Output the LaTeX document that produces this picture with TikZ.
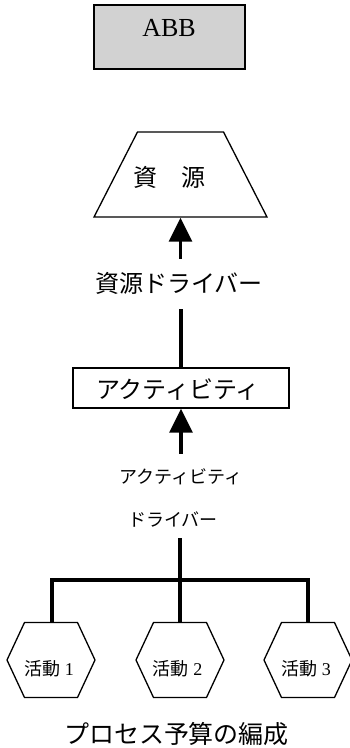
\documentclass[tikz,border=0pt]{standalone}
\usepackage{fontspec}
\setmainfont{Liberation Serif}
\newfontfamily\cjk{Noto Sans CJK JP}
\usetikzlibrary{arrows.meta,shapes.geometric}
\begin{document}
\begin{tikzpicture}[x=1pt,y=-1pt,
  thinline/.style={line width=1.3pt},
  conn/.style={line width=3.2pt},
  arr/.style={conn,-{Triangle[length=24pt,width=23pt]}},
  big/.style={font=\cjk\fontsize{24}{28}\selectfont, inner sep=0pt},
  small/.style={font=\cjk\fontsize{18}{21}\selectfont, inner sep=0pt},
  hexlabel/.style={font=\fontsize{18}{21}\selectfont, inner sep=0pt},
  caption/.style={font=\cjk\fontsize{25}{29}\selectfont, inner sep=0pt}]
\useasboundingbox (0,0) rectangle (349,748);

% ABB box
\node[draw, line width=2pt, fill=gray!35, minimum width=151pt, minimum height=64pt] (abb) at (169.5,37) {};
\node[font=\fontsize{26}{30}\selectfont, inner sep=0pt] (abbtext) at (169,28) {ABB};

% resource trapezium
\node[trapezium, draw, thinline, trapezium angle=63.2, trapezium stretches=true,
      minimum width=173pt, minimum height=85pt] (res) at (180.5,174.5) {};
\node[big] (restext) at (169.5,177) {資　源};

% resource driver
\node[big] (rdrv) at (179,283) {資源ドライバー};
\draw[arr, shorten <=13pt] (rdrv.north -| res.south) -- (res.south);

% activity box
\node[draw, thinline, minimum width=216pt, minimum height=40pt] (act) at (181,388) {};
\node[big] (acttext) at (178,390) {アクティビティ};
\draw[conn, shorten <=15pt] (rdrv.south -| act.north) -- (act.north);

% activity driver
\node[small] (ad1) at (181,477) {アクティビティ};
\node[small] (ad2) at (173,520) {ドライバー};
\draw[arr, shorten <=15pt] (ad1.north -| act.south) -- (act.south);

% hexagons
\coordinate (h1c) at (51,660);
\coordinate (h2c) at (180,660);
\coordinate (h3c) at (308,660);
\foreach \c in {h1c,h2c,h3c}{
  \draw[thinline] (\c) ++(-44,0) -- ++(17.5,-37.5) -- ++(53,0) -- ++(17.5,37.5)
    -- ++(-17.5,37.5) -- ++(-53,0) -- cycle;
}
\coordinate (h1top) at (52,622.5);
\coordinate (h2top) at (180,622.5);
\coordinate (h3top) at (308,622.5);
\node[hexlabel] (h1) at (49,669) {{\cjk 活動} 1};
\node[hexlabel] (h2) at (177.5,669) {{\cjk 活動} 2};
\node[hexlabel] (h3) at (306,669) {{\cjk 活動} 3};

% bus
\coordinate (drvbot) at (180,538);
\coordinate (bus) at (180,580);
\draw[conn] (drvbot) -- (h2top);
\draw[conn, line join=miter] (h1top) -- (h1top |- bus) -- (h3top |- bus) -- (h3top);

% caption
\node[caption] (cap) at (176.5,734) {プロセス予算の編成};
\end{tikzpicture}
\end{document}
